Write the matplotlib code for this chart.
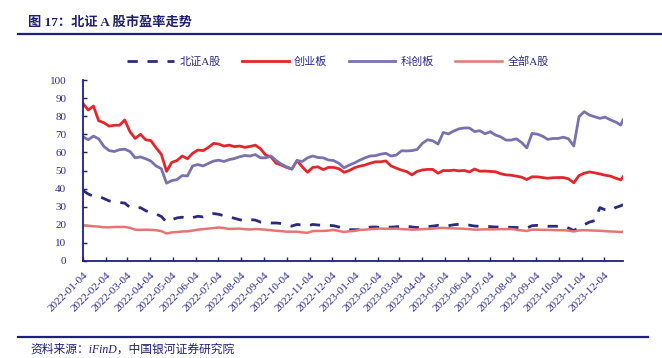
import matplotlib
matplotlib.use("Agg")
import matplotlib.pyplot as plt
import matplotlib.dates as mdates
import pandas as pd
from matplotlib.lines import Line2D

plt.rcParams['font.family'] = ['Liberation Serif', 'Noto Sans CJK SC', 'DejaVu Sans']

# weekly observation dates (every 7 days from 2022-01-04) plus last trading day
dates = list(pd.date_range('2022-01-04', periods=104, freq='7D')) + [pd.Timestamp('2023-12-29')]

bse = [39, 37, 35.8, 35.8, 34.5, 33.2, 32.8, 32.3, 32, 29.6,
       29, 29.5, 27.8, 26.8, 25.9, 24.6, 21.5, 22.8, 23.8, 24.2,
       23.5, 24, 24.7, 24.4, 25.5, 26.2, 25.8, 25, 24.4, 23.6,
       22.8, 22.1, 22.9, 22.6, 21.5, 21.3, 21, 21, 20.7, 20,
       19.3, 20.2, 19.8, 19.3, 20.2, 19.9, 19.7, 19.7, 19.5, 18.8,
       17.6, 17.3, 17.3, 17.3,
       17.5, 18.7, 18.8, 18.5, 18.6, 18.7, 18.9, 19.2, 19.2, 18.8,
       18.5, 18.6, 19, 19.3, 19.7, 19.7, 19.5, 20, 20.3, 20.3,
       19.8, 19.3, 19.2, 19.2, 19, 18.8, 18.8, 18.7, 18.6, 18.5,
       18.4, 18.2, 19.5, 19.7, 19.3, 19.2, 19.2, 19.2, 19.2, 18.2,
       16.8, 18.5, 20, 21.5, 22.3, 29.5, 28.3, 27.8, 29.5, 30.5, 31.2]

chinext = [87, 83.4, 85.6, 77.5, 76.4, 74.5, 75, 75, 77.9, 71.4,
           67.7, 70, 67, 66.5, 62.5, 59, 49.5, 54.5, 55.5, 58,
           56.5, 59.5, 61.3, 61, 62.7, 65, 64.6, 63.5, 64, 63.2,
           63.5, 62.8, 63.3, 64, 62, 58.5, 57.5, 54, 53, 51.7,
           50.8, 55.5, 52, 49, 51.7, 52, 50.5, 51.7, 51.7, 51,
           49, 50, 51.5, 52.4,
           53, 54, 54.8, 54.8, 55.3, 52.5, 51.3, 50.2, 49.4, 47.6,
           49.5, 50.3, 50.6, 50.6, 48.5, 50, 49.9, 50.2, 49.8, 50,
           49.2, 50.8, 49.6, 49.7, 49.5, 49.3, 48.2, 47.6, 47.4, 46.9,
           46.3, 45, 46.5, 46.5, 46.1, 45.7, 46, 46.1, 46.1, 45.4,
           43.2, 47.2, 48.5, 49.2, 48.7, 48.1, 47.4, 46.9, 45.8, 44.8, 46.5]

star = [68.6, 67, 69, 67.5, 63.3, 61, 60.5, 61.5, 61.8, 60.5,
        57, 57.5, 56.5, 55.2, 52.5, 51, 43, 44.4, 45, 47.2,
        47, 52.5, 53.3, 52.5, 53.9, 55.2, 55.7, 55, 56, 56.6,
        57.6, 58.3, 58, 58.8, 57, 57, 58, 55.5, 53.5, 52,
        50.8, 55.5, 55, 57, 58, 57.2, 57, 55.8, 55.5, 54,
        51.5, 53, 54.2, 55.7,
        57, 58, 58.2, 59, 59.5, 58, 58.5, 60.9, 60.8, 61,
        61.6, 65, 67, 66.4, 64.6, 71, 70.2, 71.8, 73, 73.5,
        73.5, 71.5, 72, 70.3, 71.4, 69.6, 68.6, 66.8, 66.8, 67.5,
        65.5, 62.5, 70.5, 70.1, 69, 67.2, 67.7, 67.7, 68.4, 67.5,
        63.5, 79.7, 82.5, 80.6, 79.7, 78.8, 79.5, 78, 76.8, 75.1, 78]

allA = [19.7, 19.5, 19.2, 19, 18.6, 18.6, 18.8, 18.8, 18.8, 18.3,
        17.3, 17.2, 17.3, 17.2, 17, 16.5, 15.2, 15.8, 16, 16.3,
        16.4, 16.8, 17.3, 17.6, 17.9, 18.2, 18.5, 18.2, 17.7, 17.8,
        17.9, 17.6, 17.4, 17.7, 17.5, 17.3, 17, 16.7, 16.5, 16.2,
        16.2, 16.2, 15.8, 15.6, 16.5, 16.6, 16.6, 16.8, 17.2, 16.6,
        16, 16.4, 16.6, 17.2,
        17.3, 17.6, 17.8, 17.9, 17.8, 17.8, 17.9, 17.6, 17.5, 17.3,
        17.4, 17.6, 17.7, 17.9, 18.2, 18.3, 18.1, 18, 17.9, 17.8,
        17.6, 17.3, 17.4, 17.5, 17.5, 17.5, 17.6, 17.6, 17.7, 17.3,
        16.9, 16.6, 17.3, 17.3, 17.2, 17.2, 17.1, 17, 17, 16.8,
        16.3, 16.9, 17, 16.9, 16.8, 16.7, 16.5, 16.3, 16.2, 16, 16.2]

labels = ['北证A股', '创业板', '科创板', '全部A股']
colors = ['#2B2A80', '#E2262B', '#7872AE', '#E57575']
yticks = list(range(0, 101, 10))
tick_dates = pd.date_range('2022-01-01', '2023-12-01', freq='MS') + pd.Timedelta(days=3)

navy = '#1E1E85'
txt = '#2A2A8A'

fig = plt.figure(figsize=(6.62, 3.58), dpi=100)
ax = fig.add_axes([83/662, 1-261/358, (623-83)/662, (261-80)/358])

series = [bse, chinext, star, allA]
styles = ['--', '-', '-', '-']
widths = [2.0, 2.0, 2.0, 1.8]
for s, lab, c, ls, lw in zip(series, labels, colors, styles, widths):
    line, = ax.plot(dates, s, color=c, lw=lw, ls=ls, label=lab)
    if ls == '--':
        line.set_dashes((3.7, 3.5))

ax.set_ylim(0, 100)
ax.set_xlim(pd.Timestamp('2022-01-04'), pd.Timestamp('2023-12-29'))
ax.set_yticks(yticks)
ax.set_xticks(tick_dates)
ax.xaxis.set_major_formatter(mdates.DateFormatter('%Y-%m-%d'))
for sp in ['top', 'right']:
    ax.spines[sp].set_visible(False)
for sp in ['left', 'bottom']:
    ax.spines[sp].set_color(navy)
    ax.spines[sp].set_linewidth(1.3)
ax.tick_params(axis='both', direction='in', length=3, width=1, color=navy,
               labelcolor=txt, labelsize=8)
ax.tick_params(axis='y', pad=12)
ax.tick_params(axis='x', pad=7)
for lbl in ax.get_xticklabels():
    lbl.set_rotation(45)
    lbl.set_ha('right')
    lbl.set_rotation_mode('anchor')

leg = fig.legend(loc='center', bbox_to_anchor=(338/662, 1-62/358), ncol=4,
                 frameon=False, fontsize=8, handlelength=4.2, handletextpad=0.5,
                 columnspacing=1.9, labelcolor=txt)

fig.text(28/662, 1-22/358, '图 17：北证 A 股市盈率走势', fontsize=9.5, fontweight='bold',
         color='#1F1F70', ha='left', va='center')
fig.add_artist(Line2D([18/662, 1.0], [1-33.5/358]*2, color=navy, lw=1.6))
fig.add_artist(Line2D([18/662, 648/662], [1-337/358]*2, color=navy, lw=1.6))
fig.text(30/662, 1-350/358, '资料来源：iFinD，中国银河证券研究院', fontsize=8.5,
         style='italic', color='#1F1F70', ha='left', va='center')

fig.savefig('out.png', dpi=100)
